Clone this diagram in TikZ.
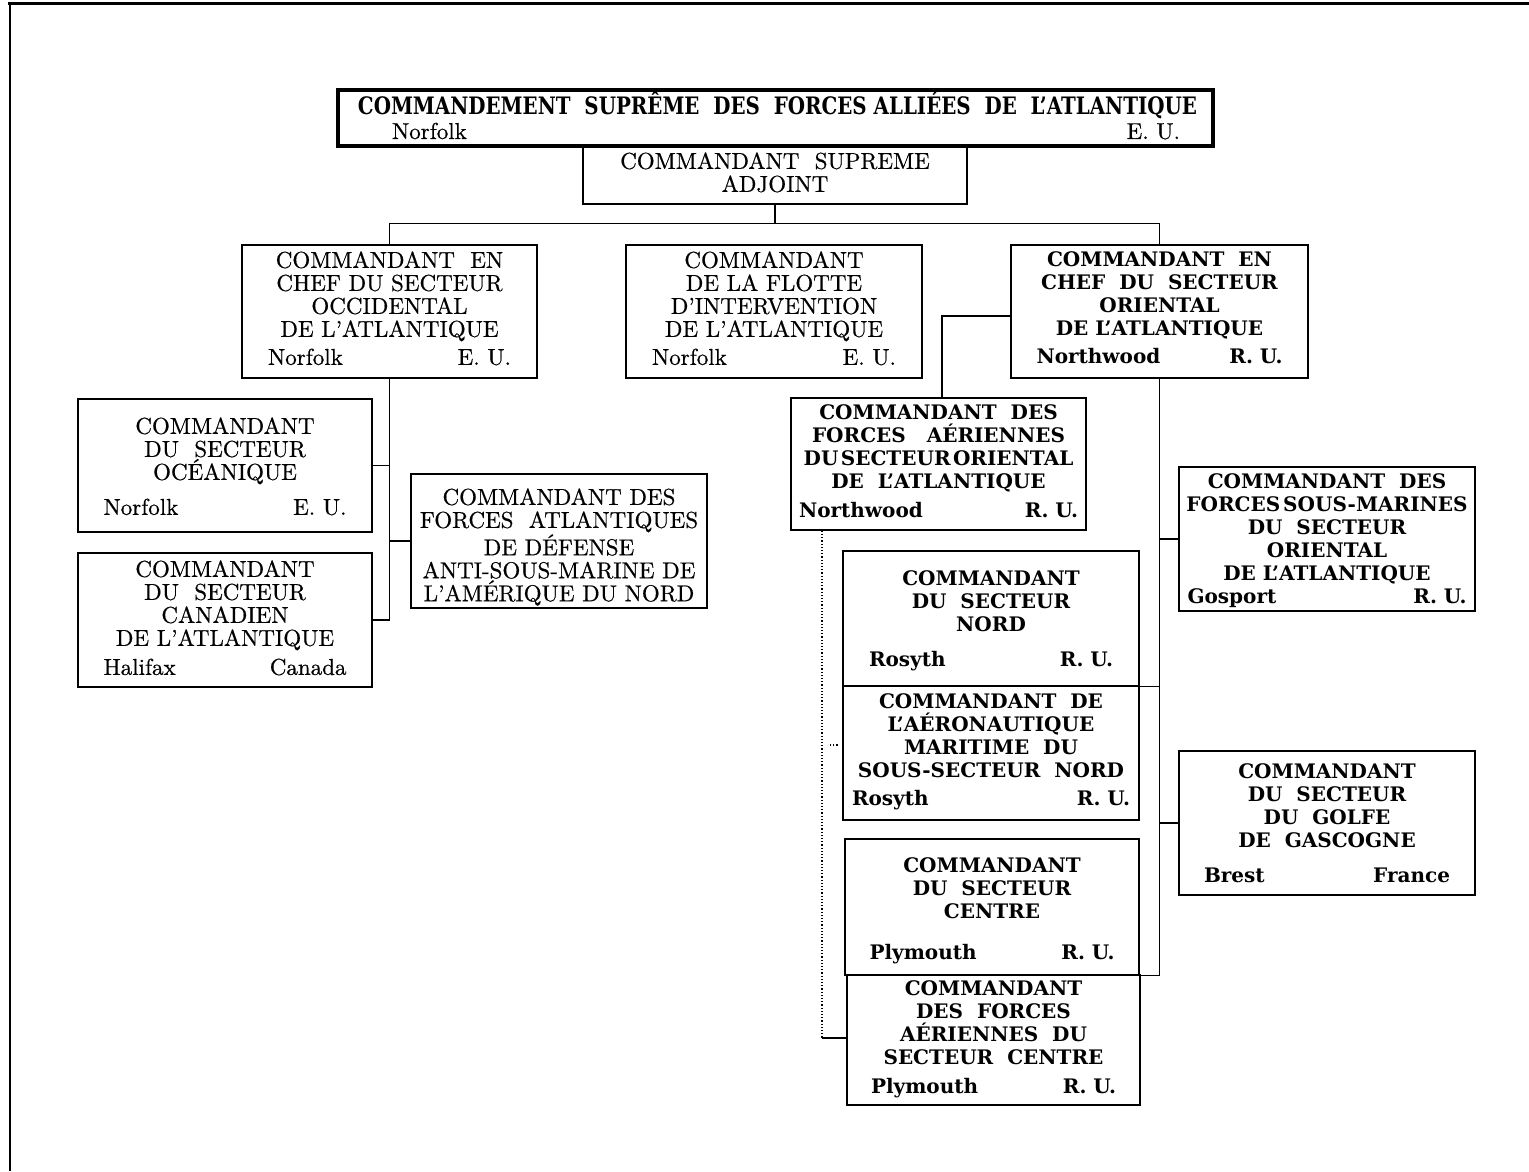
\documentclass[tikz,border=0pt]{standalone}
\usepackage{fontspec}
\usepackage{graphicx}
\newfontfamily\clar{DejaVu Serif}
\newfontfamily\modf{lmroman10-regular.otf}[FakeBold=0.6]
\usetikzlibrary{calc}
\newcommand\loc[3]{\makebox[#1]{#2\hfill#3}}
\tikzset{
  box/.style={draw, line width=0.8pt, inner sep=0pt},
  modtxt/.style={font=\modf\fontsize{11.5}{11.5}\selectfont, align=center, inner sep=0pt, anchor=north},
  clartxt/.style={font=\clar\bfseries\fontsize{10}{11.4}\selectfont, align=center, inner sep=0pt, anchor=north},
  link/.style={line width=0.6pt},
}
\begin{document}
\begin{tikzpicture}[x=0.5pt,y=-0.5pt]
\useasboundingbox (0,0) rectangle (1529,1171);
% frame
\draw[line width=1.5pt] (8,4) -- (1529,4);
\draw[line width=1.1pt] (10,3) -- (10,1171);

% boxes
\node[box, line width=1.6pt, minimum width=437.5pt, minimum height=28pt] (top) at (775.5,118) {};
\node[box, minimum width=192pt, minimum height=29pt] (dep) at (775,175) {};
\node[box, minimum width=147.5pt, minimum height=66.5pt] (occ) at (389.5,311.5) {};
\node[box, minimum width=148pt, minimum height=66.5pt] (flo) at (774,311.5) {};
\node[box, minimum width=148.5pt, minimum height=66.5pt] (ori) at (1159.5,311.5) {};
\node[box, minimum width=147pt, minimum height=66.5pt] (oce) at (225,465.5) {};
\node[box, minimum width=147pt, minimum height=67pt] (can) at (225,620) {};
\node[box, minimum width=148pt, minimum height=67pt] (asm) at (559,541) {};
\node[box, minimum width=147.5pt, minimum height=66pt] (air) at (938.5,464) {};
\node[box, minimum width=148pt, minimum height=67.5pt] (nord) at (991,618.5) {};
\node[box, minimum width=148pt, minimum height=67pt] (aer) at (991,753) {};
\node[box, minimum width=147pt, minimum height=68pt] (cen) at (992,907) {};
\node[box, minimum width=146.5pt, minimum height=65pt] (acen) at (993.5,1040) {};
\node[box, minimum width=148pt, minimum height=72pt] (sm) at (1327,539) {};
\node[box, minimum width=148pt, minimum height=72pt] (gol) at (1327,823) {};

% texts
\node[anchor=base, inner sep=0pt, font=\clar\bfseries\fontsize{12}{12}\selectfont] (top-t) at (777.5,114.5)
  {\resizebox{419.5pt}{\height}{COMMANDEMENT\ \ SUPRÊME\ \ DES\ \ FORCES ALLIÉES\ \ DE\ \ L’ATLANTIQUE}};
\node[anchor=base, inner sep=0pt, font=\modf\fontsize{11.5}{11.5}\selectfont] (top-l) at (786,139)
  {\loc{394pt}{Norfolk}{E. U.}};
\node[modtxt] (dep-t) at (775,152) {COMMANDANT\ \ SUPREME\\ADJOINT};
\node[modtxt] (occ-t) at (389.5,251) {COMMANDANT\ \ EN\\CHEF DU SECTEUR\\OCCIDENTAL\\DE L’ATLANTIQUE\\[2.5pt]\loc{121.5pt}{Norfolk}{E. U.}};
\node[modtxt] (flo-t) at (774,251) {COMMANDANT\\DE LA FLOTTE\\D’INTERVENTION\\DE L’ATLANTIQUE\\[2.5pt]\loc{122pt}{Norfolk}{E. U.}};
\node[clartxt] (ori-t) at (1159.5,251.7) {COMMANDANT\ \ EN\\CHEF\ \ DU\ \ SECTEUR\\ORIENTAL\\DE L’ATLANTIQUE\\[2.5pt]\loc{123pt}{Northwood}{R. U.}};
\node[modtxt] (oce-t) at (225,417) {COMMANDANT\\DU\ \ SECTEUR\\OCÉANIQUE\\[6pt]\loc{121.5pt}{Norfolk}{E. U.}};
\node[modtxt] (can-t) at (225,560) {COMMANDANT\\DU\ \ SECTEUR\\CANADIEN\\DE L’ATLANTIQUE\\[3pt]\loc{121.5pt}{Halifax}{Canada}};
\node[modtxt] (asm-t) at (559,488) {COMMANDANT DES\\FORCES\ \ ATLANTIQUES\\DE DÉFENSE\\ANTI-SOUS-MARINE DE\\L’AMÉRIQUE DU NORD};
\node[clartxt] (air-t) at (938.5,404.7) {COMMANDANT\ \ DES\\FORCES\ \ \ AÉRIENNES\\DU\hspace{0.12em}SECTEUR\hspace{0.12em}ORIENTAL\\DE\ \ L’ATLANTIQUE\\[3pt]\loc{139.5pt}{Northwood}{R. U.}};
\node[clartxt] (nord-t) at (991,570.7) {COMMANDANT\\DU\ \ SECTEUR\\NORD\\[6pt]\loc{122pt}{Rosyth}{R. U.}};
\node[clartxt] (aer-t) at (991,693.7) {COMMANDANT\ \ DE\\L’AÉRONAUTIQUE\\MARITIME\ \ DU\\SOUS-SECTEUR\ \ NORD\\[2.5pt]\loc{139pt}{Rosyth}{R. U.}};
\node[clartxt] (cen-t) at (992,857.7) {COMMANDANT\\DU\ \ SECTEUR\\CENTRE\\[9pt]\loc{122.5pt}{Plymouth}{R. U.}};
\node[clartxt] (acen-t) at (993.5,980.7) {COMMANDANT\\DES\ \ FORCES\\AÉRIENNES\ \ DU\\SECTEUR\ \ CENTRE\\[3pt]\loc{122.5pt}{Plymouth}{R. U.}};
\node[clartxt] (sm-t) at (1327,473.7) {COMMANDANT\ \ DES\\FORCES\hspace{0.15em}SOUS-MARINES\\DU\ \ SECTEUR\\ORIENTAL\\DE L’ATLANTIQUE\\[0.5pt]\loc{139.5pt}{Gosport}{R. U.}};
\node[clartxt] (gol-t) at (1327,763.7) {COMMANDANT\\DU\ \ SECTEUR\\DU\ \ GOLFE\\DE\ \ GASCOGNE\\[6pt]\loc{123pt}{Brest}{France}};

% connectors
\coordinate (hub) at ($(dep.south)+(0,19)$);
\draw[link] (dep.south) -- (hub);
\draw[link] (occ.north) -- (occ.north |- hub) -- (ori.north |- hub) -- (ori.north);
\draw[link] (occ.south) -- (occ.south |- can.east) -- (can.east);
\draw[link] (oce.east) -- (oce.east -| occ.south);
\draw[link] (asm.west) -- (asm.west -| occ.south);
\draw[link] ([yshift=-2.25pt]ori.west) -| ([xshift=1.75pt]air.north);
\draw[link] (ori.south) -- (ori.south |- cen.south east) -- (cen.south east);
\draw[link] (sm.west) -- (sm.west -| ori.south);
\draw[link] (gol.west) -- (gol.west -| ori.south);
\draw[link] (nord.south east) -- (nord.south east -| ori.south);
\coordinate (dj) at (822,1038);
\draw[link, densely dotted] (air.south -| dj) -- (dj);
\draw[link] (dj) -- (dj -| acen.west);
\coordinate (st1) at (830,745);
\coordinate (st2) at (838,745);
\draw[link, densely dotted] (st1) -- (st2);
\end{tikzpicture}
\end{document}
